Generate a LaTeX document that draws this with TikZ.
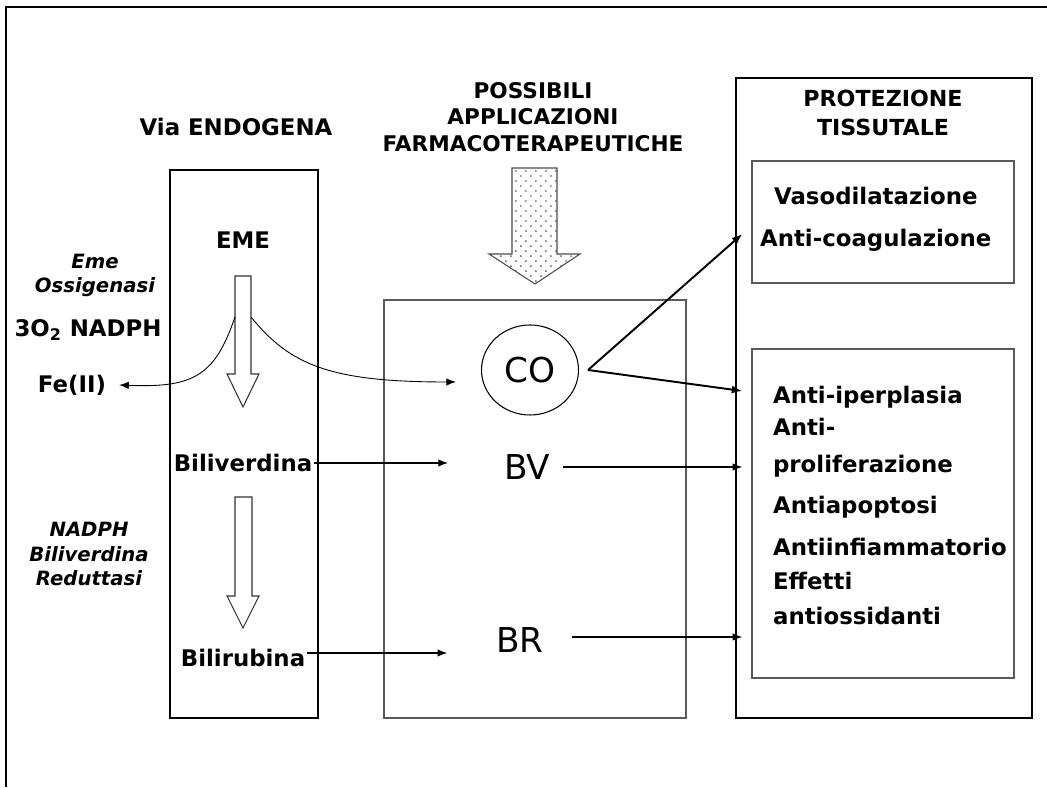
\documentclass[tikz,border=0pt]{standalone}
\usepackage{fontspec}
\setmainfont{DejaVu Sans}
\usetikzlibrary{arrows.meta,patterns,shapes.geometric}
\pgfdeclarepatternformonly{sparsedots}{\pgfqpoint{-0.7pt}{-0.7pt}}{\pgfqpoint{3.6pt}{3.6pt}}{\pgfqpoint{5.7pt}{5.7pt}}{%
  \pgfpathcircle{\pgfqpoint{0pt}{0pt}}{0.6pt}%
  \pgfpathcircle{\pgfqpoint{2.85pt}{2.85pt}}{0.6pt}%
  \pgfusepath{fill}}

\begin{document}
\begin{tikzpicture}[scale = 1,
  lbl/.style={font=\bfseries\fontsize{13pt}{15pt}\selectfont, inner sep=1pt},
  ital/.style={font=\bfseries\itshape\fontsize{11.2pt}{13.7pt}\selectfont, align=center, inner sep=1pt},
  big/.style={font=\fontsize{19.5pt}{23pt}\selectfont, inner sep=1pt},
  box/.style={draw=black, line width=0.8pt},
  graybox/.style={draw=black!65, line width=0.8pt},
  flow/.style={black, line width=0.6pt, -{Latex[length=5.5pt,width=4.2pt]}},
  thickflow/.style={black, line width=1.1pt, -{Latex[length=6pt,width=4.6pt]}},
  hollow/.style={draw=black!80, line width=0.6pt, fill=white}]
\useasboundingbox (0,0) rectangle (20.94,15.74);
\draw[line width=1.2pt] (0.12,0) -- (0.12,15.60) -- (20.94,15.60);

\draw[box] (3.40,1.38) rectangle (6.36,12.34);
\draw[graybox] (7.68,1.38) rectangle (13.72,9.74);
\draw[box] (14.72,1.38) rectangle (20.64,14.18);
\node[graybox, inner sep=0pt, minimum width=5.24cm, minimum height=2.44cm] (vbox) at (17.66,11.30) {};
\node[graybox, inner sep=0pt, minimum width=5.24cm, minimum height=6.58cm] (ebox) at (17.66,5.47) {};

\node[lbl] (via) at (4.72,13.20) {Via ENDOGENA};
\node[lbl, align=center, font=\bfseries\fontsize{12.3pt}{15.1pt}\selectfont] (poss) at (10.66,13.40) {POSSIBILI\\APPLICAZIONI\\FARMACOTERAPEUTICHE};
\node[lbl, align=center, font=\bfseries\fontsize{12.6pt}{16.2pt}\selectfont] (prot) at (17.66,13.48) {PROTEZIONE\\TISSUTALE};
\node[lbl] (eme) at (4.86,10.94) {EME};
\node[ital] (oss) at (1.90,10.24) {Eme\\Ossigenasi};
\node[lbl] (nadph) at (1.76,9.14) {3O\textsubscript{2} NADPH};
\node[lbl] (fe) at (1.44,8.04) {Fe(II)};
\node[lbl] (bilv) at (4.86,6.48) {Biliverdina};
\node[ital] (redu) at (1.78,4.66) {NADPH\\Biliverdina\\Reduttasi};
\node[lbl] (bilr) at (4.86,2.58) {Bilirubina};
\node[big, draw=black, line width=0.6pt, ellipse, minimum width=1.94cm, minimum height=1.80cm] (co) at (10.60,8.34) {CO};
\node[big] (bv) at (10.54,6.40) {BV};
\node[big] (br) at (10.40,2.94) {BR};

\node[lbl, anchor=base west] (vaso) at (15.44,11.64) {Vasodilatazione};
\node[lbl, anchor=base west] (coag) at (15.16,10.80) {Anti-coagulazione};
\node[lbl, anchor=base west] (iper) at (15.42,7.66) {Anti-iperplasia};
\node[lbl, anchor=base west] (prola) at (15.42,7.02) {Anti-};
\node[lbl, anchor=base west] (prolb) at (15.42,6.28) {proliferazione};
\node[lbl, anchor=base west] (apop) at (15.42,5.46) {Antiapoptosi};
\node[lbl, anchor=base west] (infl) at (15.42,4.62) {Antiinfiammatorio};
\node[lbl, anchor=base west] (effa) at (15.42,3.94) {Effetti};
\node[lbl, anchor=base west] (effb) at (15.42,3.24) {antiossidanti};

\draw[draw=black!70, line width=0.6pt, pattern=sparsedots, pattern color=black!55] (10.24,12.38) -- (11.14,12.38) -- (11.14,10.66) -- (11.60,10.66) -- (10.70,10.06) -- (9.78,10.66) -- (10.24,10.66) -- cycle;
\draw[hollow] (4.70,10.22) -- (5.02,10.22) -- (5.02,8.26) -- (5.18,8.26) -- (4.86,7.60) -- (4.54,8.26) -- (4.70,8.26) -- cycle;
\draw[hollow] (4.70,5.80) -- (5.04,5.80) -- (5.04,3.82) -- (5.18,3.82) -- (4.86,3.18) -- (4.54,3.82) -- (4.70,3.82) -- cycle;

\coordinate (splitl) at (4.70,9.40);
\coordinate (splitr) at (5.02,9.40);
\draw[flow, line width=0.5pt] (splitl) .. controls (4.30,8.24) and (3.90,7.98) .. ([xshift=0.22cm]fe.east);
\draw[flow, line width=0.5pt] (splitr) .. controls (5.80,8.44) and (6.60,8.10) .. ([xshift=-0.5cm,yshift=-0.24cm]co.west);

\draw[flow, shorten >=1.08cm] (bilv.east) -- (bilv.east -| bv.west);
\draw[flow, shorten <=0.22cm] (bv.east) -- ([xshift=-0.18cm]bv.east -| ebox.west);
\draw[flow, shorten >=0.94cm] ([yshift=0.1cm]bilr.east) -- ([yshift=0.1cm]bilr.east -| br.west);
\draw[flow, shorten <=0.52cm] ([yshift=0.06cm]br.east) -- ([xshift=-0.18cm,yshift=0.06cm]br.east -| ebox.west);
\draw[thickflow] ([xshift=0.18cm]co.east) -- ([xshift=-0.18cm,yshift=-0.24cm]vbox.west);
\draw[thickflow] ([xshift=0.18cm]co.east) -- ([xshift=-0.18cm,yshift=2.45cm]ebox.west);
\end{tikzpicture}
\end{document}
